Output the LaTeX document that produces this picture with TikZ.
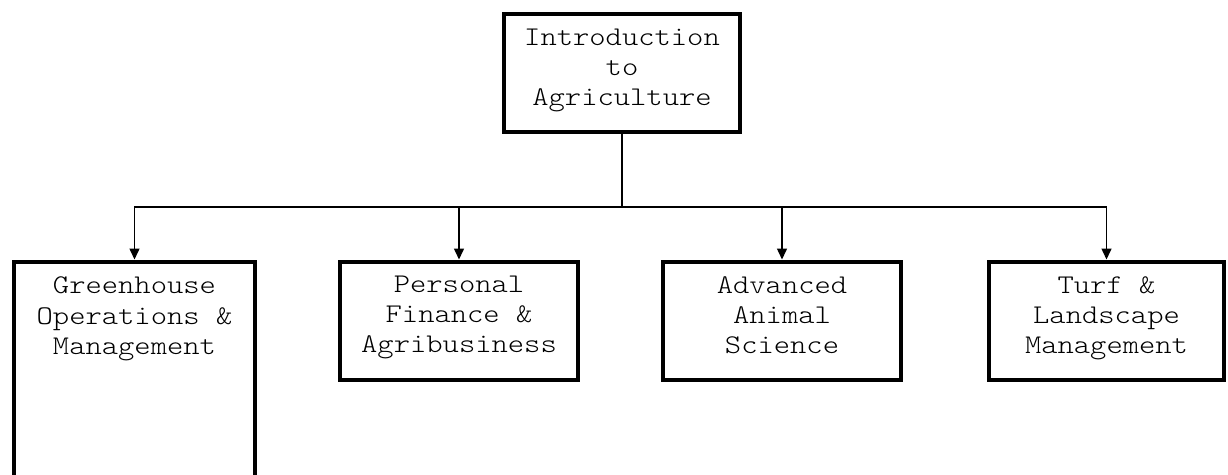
\documentclass[tikz,border=0pt]{standalone}
\usepackage{fontspec}
\newfontfamily\boxfont{Latin Modern Mono Light}[FakeStretch=1.15]
\usetikzlibrary{arrows.meta}
\begin{document}
\begin{tikzpicture}[x=1pt,y=-1pt,
  box/.style={draw=black, line width=4pt, fill=white, inner sep=0pt, outer sep=0pt, anchor=north west},
  boxtext/.style={font=\boxfont\fontsize{27}{30}\selectfont, align=center, text=black, inner sep=0pt, anchor=north},
  link/.style={line width=1.5pt, line cap=rect},
  feed/.style={line width=1.5pt, shorten >=2.5pt, -{Triangle[length=11pt,width=10pt]}}
]
\useasboundingbox (0,0) rectangle (1228,474);

% boxes
\node[box, minimum width=236pt, minimum height=118pt] (intro) at (504,14) {};
\node[box, minimum width=241pt, minimum height=215pt] (gh) at (14,262) {};
\node[box, minimum width=238pt, minimum height=118pt] (pf) at (340,262) {};
\node[box, minimum width=238pt, minimum height=118pt] (aas) at (663,262) {};
\node[box, minimum width=235pt, minimum height=118pt] (turf) at (989,262) {};

% box texts, hung from the top of the first line
\node[boxtext] (introtxt) at (622,29) {Introduction\\to\\Agriculture};
\node[boxtext] (ghtxt) at (134.5,277) {Greenhouse\\Operations \&\\Management};
\node[boxtext] (pftxt) at (459,276) {Personal\\Finance \&\\Agribusiness};
\node[boxtext] (aastxt) at (782,276) {Advanced\\Animal\\Science};
\node[boxtext] (turftxt) at (1106.5,276) {Turf \&\\Landscape\\Management};

% connectors
\coordinate (bus) at (622,207);
\draw[link] (intro.south) -- (intro.south |- bus);
\draw[link] (gh.north |- bus) -- (turf.north |- bus);
\draw[feed] (gh.north |- bus) -- (gh.north);
\draw[feed] (pf.north |- bus) -- (pf.north);
\draw[feed] (aas.north |- bus) -- (aas.north);
\draw[feed] (turf.north |- bus) -- (turf.north);
\end{tikzpicture}
\end{document}
